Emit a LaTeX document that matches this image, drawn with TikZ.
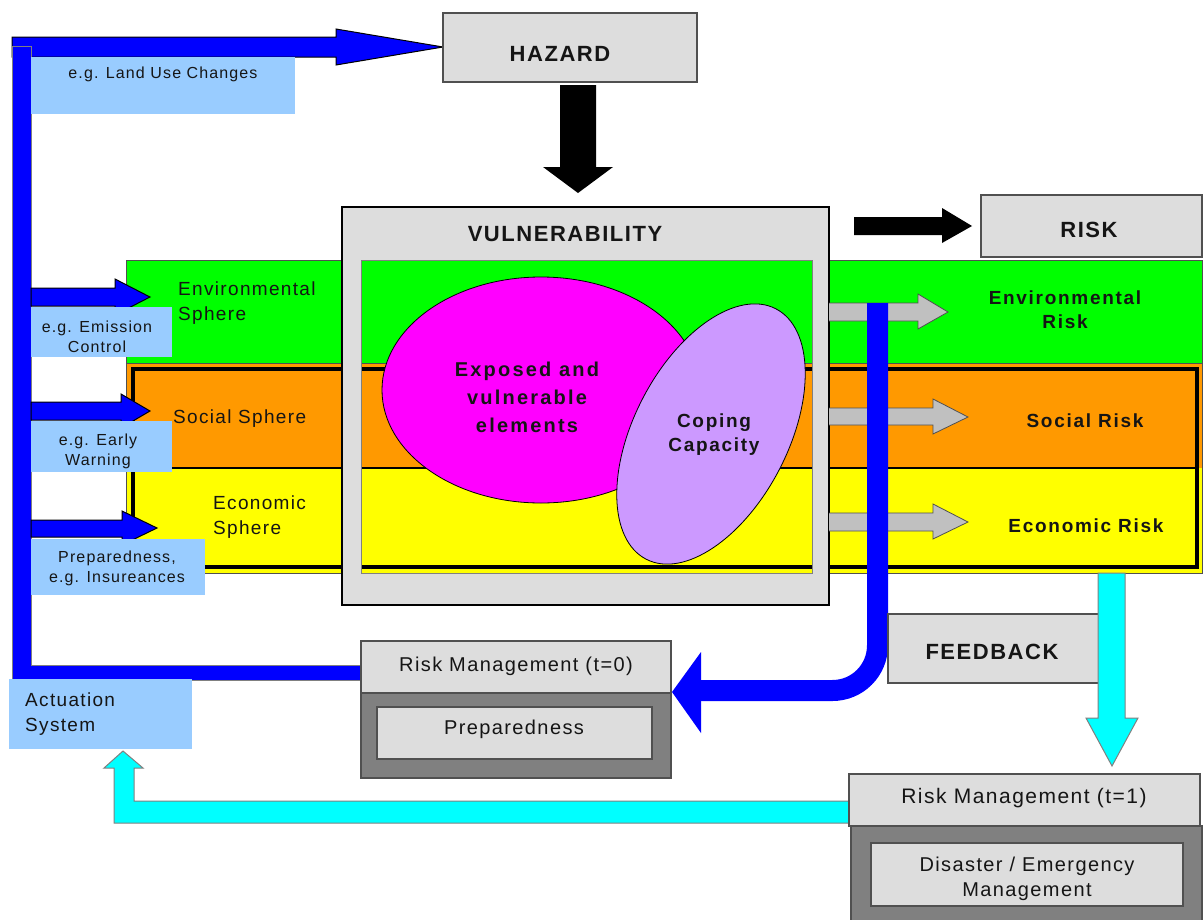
\documentclass[tikz,border=0pt]{standalone}
\usepackage{fontspec}
\setmainfont{Liberation Sans}[LetterSpace=7]
\definecolor{boxgray}{HTML}{DDDDDD}
\definecolor{mgmtgray}{HTML}{808080}
\definecolor{edgegray}{HTML}{505050}
\definecolor{envgreen}{HTML}{00FF00}
\definecolor{socorange}{HTML}{FF9900}
\definecolor{ecoyellow}{HTML}{FFFF00}
\definecolor{expmagenta}{HTML}{FF00FF}
\definecolor{copelilac}{HTML}{CC99FF}
\definecolor{tagblue}{HTML}{99CCFF}
\definecolor{flowblue}{HTML}{0000FF}
\definecolor{flowcyan}{HTML}{00FFFF}
\definecolor{arrowgray}{HTML}{C0C0C0}
\definecolor{inkcol}{HTML}{151515}
\begin{document}
\begin{tikzpicture}[x=1pt,y=-1pt,
  every node/.style={inner sep=0pt, text=inkcol},
  box/.style={draw=edgegray, line width=1.5pt, fill=boxgray},
  blackedge/.style={draw=black, line width=1pt},
  grayedge/.style={draw=mgmtgray, line width=1pt},
  txt/.style={yshift=-1.5pt},
  titletext/.style={txt, font=\bfseries\fontsize{22}{26}\selectfont},
  boldtext/.style={txt, font=\bfseries\addfontfeatures{LetterSpace=9}\fontsize{19}{24.5}\selectfont, align=center},
  bigbold/.style={txt, font=\bfseries\addfontfeatures{LetterSpace=11}\fontsize{20}{28}\selectfont, align=center},
  plaintext/.style={txt, font=\fontsize{19}{25}\selectfont, align=left},
  mgmttext/.style={txt, font=\fontsize{20}{25}\selectfont, align=center},
  smalltext/.style={txt, font=\fontsize{16}{20}\selectfont, align=center}]
\useasboundingbox (0,0) rectangle (1203,919);

% actuation trunk: arrow to the hazard and the return bar
\draw[blackedge, fill=flowblue] (12,37) -- (336,37) -- (336,29) -- (443,47) -- (336,65) -- (336,57) -- (12,57) -- cycle;
\draw[grayedge, fill=flowblue] (12,46) -- (31,46) -- (31,665) -- (360,665) -- (360,680) -- (12,680) -- cycle;

% measure tag at the top
\fill[tagblue] (31,57) rectangle (295,114);
\node[smalltext] (landuse) at (163,73) {e.g. Land Use Changes};

% sphere bands
\draw[draw=edgegray, line width=0.8pt, fill=envgreen] (126,260) rectangle (1202,363);
\fill[socorange] (126,363) rectangle (1202,468);
\fill[ecoyellow] (126,468) rectangle (1202,573);
\draw[draw=edgegray, line width=0.8pt] (126,363) rectangle (1202,573);
\draw[line width=4pt] (133,369) rectangle (1197,567);
\draw[line width=1.3pt] (135,468) -- (1195,468);

\node[plaintext, anchor=west] (envsphere) at (178,302) {Environmental\\Sphere};
\node[plaintext, anchor=west] (socsphere) at (173,417) {Social Sphere};
\node[plaintext, anchor=west] (ecosphere) at (213,516) {Economic\\Sphere};

% measures acting on the spheres
\draw[blackedge, fill=flowblue] (31,288) -- (115,288) -- (115,279) -- (150,297) -- (115,315) -- (115,306) -- (31,306) -- cycle;
\draw[blackedge, fill=flowblue] (31,402) -- (121,402) -- (121,394) -- (150,411) -- (121,428) -- (121,420) -- (31,420) -- cycle;
\draw[blackedge, fill=flowblue] (31,520) -- (122,520) -- (122,511) -- (157,528) -- (122,545) -- (122,537) -- (31,537) -- cycle;

\fill[tagblue] (31,307) rectangle (172,357);
\node[smalltext] (emission) at (97,335) {e.g. Emission\\Control};
\fill[tagblue] (31,421) rectangle (172,472);
\node[smalltext] (warning) at (98,450) {e.g. Early\\Warning};
\fill[tagblue] (31,539) rectangle (205,595);
\node[smalltext] (insurance) at (117,567) {Preparedness,\\e.g. Insureances};

% vulnerability frame
\fill[boxgray, even odd rule] (342,207) rectangle (829,605) (361,260) rectangle (812,573);
\draw[draw=mgmtgray, line width=0.6pt] (361,260) rectangle (812,573);
\draw[line width=2pt] (342,207) rectangle (829,605);
\node[titletext] (vulnerability) at (565,233) {VULNERABILITY};

\draw[line width=0.8pt, fill=expmagenta] (541,390) ellipse [x radius=159, y radius=113];
\draw[line width=0.8pt, fill=copelilac, rotate around={62.6:(711,434)}] (711,434) ellipse [x radius=141, y radius=77];
\node[bigbold] (exposed) at (527,396) {Exposed and\\vulnerable\\elements};
\node[boldtext] (coping) at (714,433) {Coping\\Capacity};

% hazard
\node[box, minimum width=254pt, minimum height=69pt] (hazard) at (570,47.5) {};
\node[titletext] (hazardlabel) at (560,52) {HAZARD};
\fill (560,85) -- (596,85) -- (596,167) -- (613,167) -- (578,193) -- (543,167) -- (560,167) -- cycle;

% risk
\node[box, minimum width=221pt, minimum height=62pt] (risk) at (1091.5,226) {};
\node[titletext] (risklabel) at (1089,228) {RISK};
\fill (854,217) -- (942,217) -- (942,208) -- (972,226) -- (942,243) -- (942,235) -- (854,235) -- cycle;

% risk per sphere
\draw[draw=edgegray, line width=0.8pt, fill=arrowgray] (829,303) -- (918,303) -- (918,294) -- (948,312) -- (918,329) -- (918,321) -- (829,321);
\draw[draw=edgegray, line width=0.8pt, fill=arrowgray] (829,408) -- (933,408) -- (933,399) -- (968,417) -- (933,434) -- (933,425) -- (829,425);
\draw[draw=edgegray, line width=0.8pt, fill=arrowgray] (829,513) -- (933,513) -- (933,504) -- (968,522) -- (933,539) -- (933,531) -- (829,531);
\node[boldtext] (envrisk) at (1065,308) {Environmental\\Risk};
\node[boldtext] (socrisk) at (1085,419) {Social Risk};
\node[boldtext] (ecorisk) at (1086,524) {Economic Risk};

% feedback loop
\draw[line width=21pt, flowblue, rounded corners=45pt] (877.5,303) -- (877.5,690.5) -- (700,690.5);
\fill[flowblue] (701,652) -- (672,692) -- (701,733) -- cycle;
\node[box, minimum width=211pt, minimum height=69pt] (feedback) at (993.5,648.5) {};
\node[titletext] (feedbacklabel) at (992,650) {FEEDBACK};

\draw[grayedge, fill=flowcyan] (1098,573) -- (1125,573) -- (1125,718) -- (1138,718) -- (1112,766) -- (1086,718) -- (1098,718) -- cycle;
\draw[grayedge, fill=flowcyan] (849,801) -- (134,801) -- (134,768) -- (143,768) -- (123,751) -- (104,768) -- (114,768) -- (114,823) -- (849,823) -- cycle;

% risk management before the event
\node[box, minimum width=310pt, minimum height=52pt] (rmzero) at (516,667) {};
\node[mgmttext] (rmzerolabel) at (516,665) {Risk Management (t=0)};
\node[draw=edgegray, line width=1.5pt, fill=mgmtgray, minimum width=310pt, minimum height=85pt] (rmzerobase) at (516,735.5) {};
\node[box, minimum width=275pt, minimum height=52pt] (prepbox) at (514.5,733) {};
\node[mgmttext] (preplabel) at (514,728) {Preparedness};

% risk management after the event
\node[box, minimum width=351pt, minimum height=52pt] (rmone) at (1024.5,800) {};
\node[mgmttext, font=\fontsize{21}{25}\selectfont] (rmonelabel) at (1024,797) {Risk Management (t=1)};
\node[draw=edgegray, line width=1.5pt, fill=mgmtgray, minimum width=351pt, minimum height=110pt] (rmonebase) at (1026.5,881) {};
\node[box, minimum width=312pt, minimum height=63pt] (disasterbox) at (1027,874.5) {};
\node[mgmttext] (disasterlabel) at (1027,877) {Disaster / Emergency\\Management};

% actuation system
\fill[tagblue] (9,679) rectangle (192,749);
\node[plaintext, anchor=west] (actuation) at (25,713) {Actuation\\System};
\end{tikzpicture}
\end{document}
